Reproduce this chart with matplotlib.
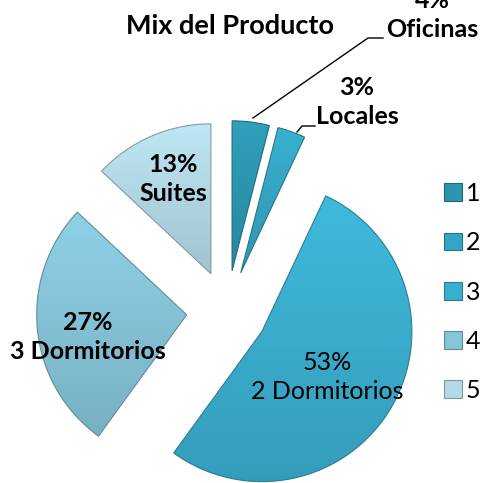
import numpy as np
import matplotlib
matplotlib.use("Agg")
import matplotlib.pyplot as plt
from matplotlib.colors import to_rgb

# Datos del gráfico
categorias = ["1", "2", "3", "4", "5"]
valores = [4, 3, 53, 27, 13]
nombres = ["Oficinas", "Locales", "2 Dormitorios", "3 Dormitorios", "Suites"]
colores = ["#2b96b0", "#34a6c4", "#3aaecf", "#86c4d9", "#b3d9e6"]

plt.rcParams["font.family"] = ["Lato", "DejaVu Sans"]

W, H = 481, 483
fig = plt.figure(figsize=(W / 100, H / 100), dpi=100)
ax = fig.add_axes([0, 0, 1, 1])

# centro del pastel y radio en pixeles
cx, cy, R = 227, 311, 150


def px(x, y):
    return (x - cx) / R, (cy - y) / R


wedges, _ = ax.pie(valores, explode=[0.27] * 5, startangle=90, counterclock=False,
                   colors=colores, radius=1,
                   wedgeprops=dict(linewidth=0.8))

# degradado vertical suave dentro de cada porción
for w, c in zip(wedges, colores):
    base = np.array(to_rgb(c))
    w.set_edgecolor(base * 0.72)
    ang = np.radians(np.linspace(w.theta1, w.theta2, 50))
    xs = np.concatenate([[w.center[0]], w.center[0] + w.r * np.cos(ang)])
    ys = np.concatenate([[w.center[1]], w.center[1] + w.r * np.sin(ang)])
    t = np.linspace(0, 1, 100)[:, None]
    top = np.clip(base * 1.05 + 0.01, 0, 1)
    bot = base * 0.9
    grad = (top[None, :] * (1 - t) + bot[None, :] * t)[:, None, :]
    im = ax.imshow(grad, extent=(xs.min(), xs.max(), ys.min(), ys.max()),
                   aspect="auto", zorder=w.get_zorder() + 0.1, origin="upper")
    im.set_clip_path(w)
    w.set_zorder(w.get_zorder() + 0.2)
    w.set_facecolor("none")

ax.set_xlim(-cx / R, (W - cx) / R)
ax.set_ylim((cy - H) / R, cy / R)
ax.set_aspect("auto")
ax.axis("off")

fs = 18
ax.text(*px(230, 26), "Mix del Producto", ha="center", va="center",
        fontsize=19.5, fontweight="bold")

# etiquetas de cada porción
etiquetas = [f"{v}%\n{n}" for v, n in zip(valores, nombres)]
pos_etiq = [(432, 15), (357, 102), (327, 377), (88, 337), (173, 179)]
negrita = [True, True, False, True, True]
for txt, (x, y), b in zip(etiquetas, pos_etiq, negrita):
    ax.text(*px(x, y), txt, ha="center", va="center", fontsize=fs,
            fontweight="bold" if b else "normal", linespacing=1.3)

# líneas guía
for pts in [[(253, 118), (368, 38), (383, 38)], [(297, 132), (302, 126), (315, 126)]]:
    xy = np.array([px(*p) for p in pts])
    ax.plot(xy[:, 0], xy[:, 1], color="black", lw=1)

leg = ax.legend(wedges, categorias, loc="upper left", bbox_to_anchor=(444 / W, 1 - 182 / H),
                frameon=False, fontsize=fs, handlelength=0.72, handleheight=0.72,
                handletextpad=0.15, labelspacing=1.05, borderpad=0, borderaxespad=0)
for h, c in zip(leg.legend_handles, colores):
    h.set_facecolor(c)
    h.set_edgecolor(np.array(to_rgb(c)) * 0.7)

fig.savefig("out.png", dpi=100)
